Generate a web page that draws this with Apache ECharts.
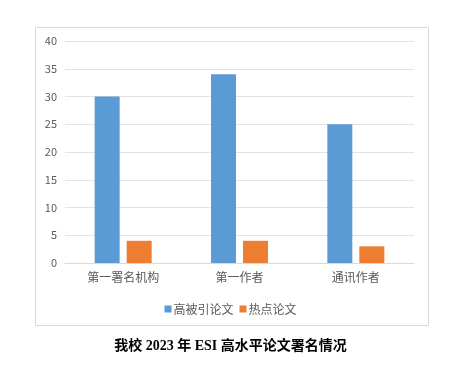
<!DOCTYPE html>
<html><head><meta charset="utf-8">
<script src="https://cdn.jsdelivr.net/npm/echarts@6/dist/echarts.min.js"></script>
<style>html,body{margin:0;padding:0;background:#fff}#c{width:461px;height:374px}</style>
</head><body><div id="c"></div>
<script>
const categories = ['第一署名机构', '第一作者', '通讯作者'];
const highlyCited = [30, 34, 25];
const hotPapers = [4, 4, 3];
const seriesNames = ['高被引论文', '热点论文'];
const titleText = '我校 2023 年 ESI 高水平论文署名情况';

const chart = echarts.init(document.getElementById('c'));
chart.setOption({
  animation: false,
  backgroundColor: '#fff',
  textStyle: { fontFamily: '"Microsoft YaHei", "Noto Sans CJK SC", sans-serif' },
  title: {
    text: titleText,
    left: 'center',
    top: 334,
    textStyle: { fontFamily: '"Liberation Serif", "Noto Sans CJK SC", serif', fontSize: 14, fontWeight: 'bold', color: '#000' }
  },
  graphic: [{
    type: 'rect',
    shape: { x: 35.5, y: 27.5, width: 393, height: 298 },
    style: { fill: 'none', stroke: '#d9d9d9', lineWidth: 1 },
    silent: true, z: -1
  }],
  legend: {
    data: seriesNames,
    top: 298,
    left: 'center',
    itemWidth: 7, itemHeight: 7, itemGap: 6,
    icon: 'rect',
    textStyle: { fontSize: 12, color: '#595959', padding: [0, 0, 0, -3] }
  },
  grid: { left: 65, right: 47, top: 41, bottom: 111, containLabel: false },
  xAxis: {
    type: 'category',
    data: categories,
    axisLine: { lineStyle: { color: '#d9d9d9' } },
    axisTick: { show: false },
    axisLabel: { color: '#595959', fontSize: 12, margin: 8 }
  },
  yAxis: {
    type: 'value',
    min: 0, max: 40, interval: 5,
    axisLine: { show: false },
    axisTick: { show: false },
    splitLine: { lineStyle: { color: '#e3e3e3' } },
    axisLabel: { color: '#595959', fontSize: 11, margin: 8 }
  },
  series: [
    { name: seriesNames[0], type: 'bar', data: highlyCited, barWidth: 25, barGap: '28%', itemStyle: { color: '#5b9bd5' } },
    { name: seriesNames[1], type: 'bar', data: hotPapers, barWidth: 25, itemStyle: { color: '#ed7d31' } }
  ]
});
</script></body></html>
